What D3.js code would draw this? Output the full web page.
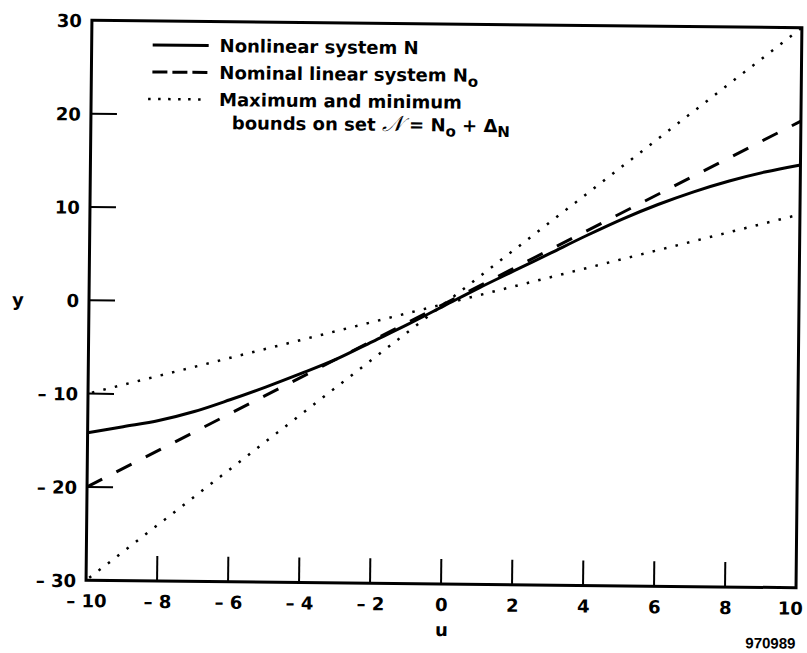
<!DOCTYPE html>
<html><head><meta charset="utf-8">
<script src="https://cdn.jsdelivr.net/npm/d3@7"></script>
<style>body{margin:0;background:#fff}svg{display:block}</style>
</head><body>
<svg id="chart" width="807" height="653"></svg>
<script>
// ---- data ----
const uTicks = [-10, -8, -6, -4, -2, 0, 2, 4, 6, 8, 10];
const yTicks = [-30, -20, -10, 0, 10, 20, 30];
const nonlinearU = [-10, -9, -8, -7, -6, -5, -4, -3, -2, -1, 0, 1, 2, 3, 4, 5, 6, 7, 8, 9, 10];
const nonlinearY = [-14.2, -13.5, -12.8, -11.8, -10.5, -9.1, -7.6, -6.0, -4.1, -2.2, -0.2, 1.8, 3.7, 5.6, 7.5, 9.3, 10.9, 12.3, 13.5, 14.5, 15.3];
const nominalU = [-10, 10];
const nominalY = [-20, 20];
const upperU = [-10, 10];
const upperY = [-30, 30];
const lowerU = [-10, 10];
const lowerY = [-10, 10];
const legendLabels = ["Nonlinear system N", "Nominal linear system N", "Maximum and minimum", "bounds on set"];
const figureId = "970989";

// ---- layout ----
const svg = d3.select("#chart");
const L = 89, R = 799, T = 24, B = 584;
const x = d3.scaleLinear().domain([-10, 10]).range([L, R]);
const y = d3.scaleLinear().domain([-30, 30]).range([B, T]);
const font = "'DejaVu Sans', sans-serif";

const g = svg.append("g").attr("transform", "rotate(0.6,443,302)");

const fmt = d => d < 0 ? "\u2013 " + Math.abs(d) : String(d);

// x axis (ticks inward)
const xAxis = d3.axisBottom(x).tickValues(uTicks).tickSize(0).tickFormat(fmt);
const gx = g.append("g").attr("transform", `translate(0,${B})`).call(xAxis);
gx.select(".domain").remove();
gx.selectAll("text").attr("font-family", font).attr("font-weight", "bold").attr("font-size", 18)
  .attr("fill", "#000").attr("dy", null).attr("y", 27)
  .attr("x", d => d === 10 ? -6 : 0);
g.append("g").selectAll("line").data(uTicks.filter(d => d > -10 && d < 10)).join("line")
  .attr("x1", d => x(d)).attr("x2", d => x(d)).attr("y1", B).attr("y2", B - 25)
  .attr("stroke", "#000").attr("stroke-width", 2);

// y axis
const yAxis = d3.axisLeft(y).tickValues(yTicks).tickSize(0).tickFormat(fmt);
const gy = g.append("g").attr("transform", `translate(${L - 10},0)`).call(yAxis);
gy.select(".domain").remove();
gy.selectAll("text").attr("font-family", font).attr("font-weight", "bold").attr("font-size", 18)
  .attr("fill", "#000").attr("x", 0).attr("dy", "0.36em");
g.append("g").selectAll("line").data(yTicks.filter(d => d > -30 && d < 30)).join("line")
  .attr("x1", L).attr("x2", L + 26).attr("y1", d => y(d)).attr("y2", d => y(d))
  .attr("stroke", "#000").attr("stroke-width", 2);

// frame
g.append("rect").attr("x", L).attr("y", T).attr("width", R - L).attr("height", B - T)
  .attr("fill", "none").attr("stroke", "#000").attr("stroke-width", 3);

// axis titles
g.append("text").attr("x", 18).attr("y", y(0)).attr("dy", "0.36em").attr("text-anchor", "middle")
  .attr("font-family", font).attr("font-weight", "bold").attr("font-size", 18).text("y");
g.append("text").attr("x", 445).attr("y", 636).attr("text-anchor", "middle")
  .attr("font-family", font).attr("font-weight", "bold").attr("font-size", 18).text("u");
g.append("text").attr("x", 799).attr("y", 645).attr("text-anchor", "end")
  .attr("font-family", "'Liberation Sans', Arial, sans-serif").attr("font-weight", "bold").attr("font-size", 15).text(figureId);

// lines
const line = d3.line().x(d => x(d[0])).y(d => y(d[1]));
const curve = d3.line().x(d => x(d[0])).y(d => y(d[1])).curve(d3.curveMonotoneX);
const zip = (a, b) => a.map((v, i) => [v, b[i]]);

g.append("path").datum(zip(upperU, upperY)).attr("d", line).attr("fill", "none")
  .attr("stroke", "#000").attr("stroke-width", 2.5).attr("stroke-dasharray", "2.5,9.3").attr("stroke-dashoffset", -4);
g.append("path").datum(zip(lowerU, lowerY)).attr("d", line).attr("fill", "none")
  .attr("stroke", "#000").attr("stroke-width", 2.5).attr("stroke-dasharray", "2.5,9.3").attr("stroke-dashoffset", -4);
g.append("path").datum(zip(nominalU, nominalY)).attr("d", line).attr("fill", "none")
  .attr("stroke", "#000").attr("stroke-width", 3).attr("stroke-dasharray", "17,16");
g.append("path").datum(zip(nonlinearU, nonlinearY)).attr("d", curve).attr("fill", "none")
  .attr("stroke", "#000").attr("stroke-width", 3);

// legend
const lg = g.append("g").attr("font-family", font).attr("font-weight", "bold").attr("font-size", 18);
const rows = [48, 75, 102, 125];
lg.append("line").attr("x1", 150).attr("x2", 206).attr("y1", rows[0]).attr("y2", rows[0]).attr("stroke", "#000").attr("stroke-width", 3);
lg.append("line").attr("x1", 150).attr("x2", 206).attr("y1", rows[1]).attr("y2", rows[1]).attr("stroke", "#000").attr("stroke-width", 3).attr("stroke-dasharray", "15,5");
lg.append("line").attr("x1", 146).attr("x2", 206).attr("y1", rows[2]).attr("y2", rows[2]).attr("stroke", "#000").attr("stroke-width", 2.5).attr("stroke-dasharray", "2.5,7.5");

lg.append("text").attr("x", 217).attr("y", rows[0]).attr("dy", "0.36em").text(legendLabels[0]);
const t2 = lg.append("text").attr("x", 217).attr("y", rows[1]).attr("dy", "0.36em");
t2.append("tspan").text(legendLabels[1]);
t2.append("tspan").attr("font-size", 15).attr("dy", 5).text("o");
lg.append("text").attr("x", 217).attr("y", rows[2]).attr("dy", "0.36em").text(legendLabels[2]);
const t4 = lg.append("text").attr("x", 230).attr("y", rows[3]).attr("dy", "0.36em");
t4.append("tspan").text(legendLabels[3] + " ");
t4.append("tspan").attr("font-family", "'DejaVu Serif', serif").attr("font-style", "italic").attr("font-weight", "normal").attr("font-size", 22).text("\u{1D4A9}");
t4.append("tspan").text(" = N");
t4.append("tspan").attr("font-size", 15).attr("dy", 5).text("o");
t4.append("tspan").attr("dy", -5).text(" + \u0394");
t4.append("tspan").attr("font-size", 15).attr("dy", 5).text("N");
</script>
</body></html>
